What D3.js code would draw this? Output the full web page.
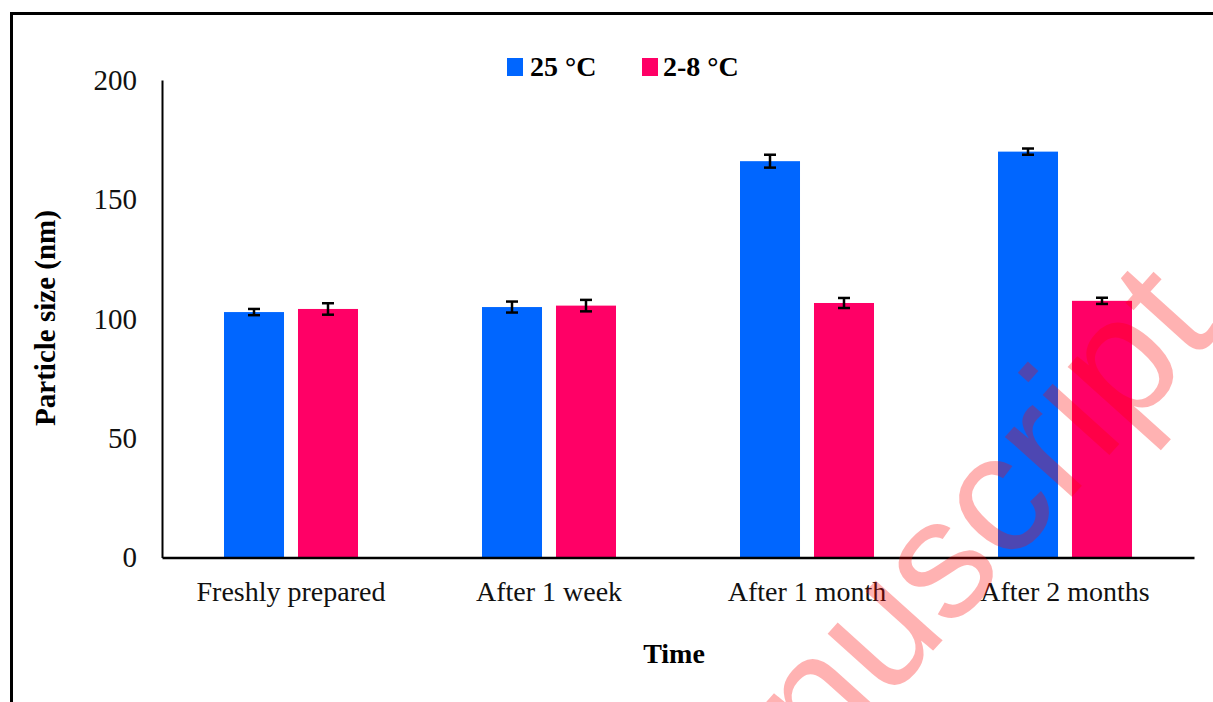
<!DOCTYPE html>
<html>
<head>
<meta charset="utf-8">
<script src="https://cdn.jsdelivr.net/npm/d3@7"></script>
<style>
  html, body { margin: 0; padding: 0; background: #fff; }
  svg { display: block; }
</style>
</head>
<body>
<svg id="chart" width="1213" height="702"></svg>
<script>
// Storage time points on the x axis
const categories = ["Freshly prepared", "After 1 week", "After 1 month", "After 2 months"];
// Series names (storage temperature)
const seriesNames = ["25 °C", "2-8 °C"];
// Mean particle size (nm) and error (±) for each storage temperature
const size25 = [102.8, 104.9, 166.0, 170.0];
const err25 = [1.3, 2.3, 2.7, 1.3];
const size28 = [104.1, 105.5, 106.6, 107.5];
const err28 = [2.4, 2.4, 2.1, 1.3];
// Y axis tick values
const yTicks = [0, 50, 100, 150, 200];

const colors = ["#0066ff", "#ff0066"];
const serif = "'Liberation Serif', 'Times New Roman', serif";

const svg = d3.select("#chart");

// outer frame of the figure panel
svg.append("rect")
  .attr("x", 11.5).attr("y", 13.5)
  .attr("width", 1240).attr("height", 720)
  .attr("fill", "none").attr("stroke", "#000").attr("stroke-width", 3);

const plot = { left: 162, right: 1194, top: 80, bottom: 557.5 };

const x0 = d3.scaleBand().domain(categories).range([plot.left, plot.right]);
const x1 = d3.scaleBand().domain(seriesNames)
  .range([x0.bandwidth() / 2 - 67, x0.bandwidth() / 2 + 67])
  .paddingInner(0.189);
const y = d3.scaleLinear().domain([0, 200]).range([plot.bottom, plot.top]);

const rows = categories.map((c, i) => ({
  cat: c,
  vals: [
    { s: seriesNames[0], v: size25[i], e: err25[i], k: 0 },
    { s: seriesNames[1], v: size28[i], e: err28[i], k: 1 }
  ]
}));

// bars
const groups = svg.append("g").selectAll("g").data(rows).join("g")
  .attr("transform", d => `translate(${x0(d.cat)},0)`);

groups.selectAll("rect").data(d => d.vals).join("rect")
  .attr("x", d => x1(d.s))
  .attr("y", d => y(d.v))
  .attr("width", x1.bandwidth())
  .attr("height", d => y(0) - y(d.v))
  .attr("fill", d => colors[d.k]);

// error bars
const eb = groups.selectAll("g.err").data(d => d.vals).join("g").attr("class", "err")
  .attr("stroke", "#000").attr("stroke-width", 2.5);
const cx = d => x1(d.s) + x1.bandwidth() / 2;
eb.append("line")
  .attr("x1", cx).attr("x2", cx)
  .attr("y1", d => y(d.v + d.e)).attr("y2", d => y(d.v - d.e));
eb.append("line")
  .attr("x1", d => cx(d) - 6).attr("x2", d => cx(d) + 6)
  .attr("y1", d => y(d.v + d.e)).attr("y2", d => y(d.v + d.e));
eb.append("line")
  .attr("x1", d => cx(d) - 6).attr("x2", d => cx(d) + 6)
  .attr("y1", d => y(d.v - d.e)).attr("y2", d => y(d.v - d.e));

// y axis
const yAxis = svg.append("g")
  .attr("transform", `translate(${plot.left},0)`)
  .call(d3.axisLeft(y).tickValues(yTicks).tickSize(0).tickPadding(25));
yAxis.select(".domain").attr("stroke", "#000").attr("stroke-width", 2);
yAxis.selectAll("text")
  .attr("font-family", serif).attr("font-size", 29).attr("fill", "#111");

// x axis
const xAxis = svg.append("g")
  .attr("transform", `translate(0,${plot.bottom})`)
  .call(d3.axisBottom(x0).tickSize(0).tickPadding(24));
xAxis.select(".domain").attr("stroke", "#000").attr("stroke-width", 2.5);
xAxis.selectAll("text")
  .attr("font-family", serif).attr("font-size", 28).attr("fill", "#111");

// axis titles
svg.append("text")
  .attr("transform", "translate(55,318) rotate(-90)")
  .attr("text-anchor", "middle")
  .attr("font-family", serif).attr("font-weight", "bold").attr("font-size", 29)
  .text("Particle size (nm)");

svg.append("text")
  .attr("x", 674).attr("y", 663)
  .attr("text-anchor", "middle")
  .attr("font-family", serif).attr("font-weight", "bold").attr("font-size", 28)
  .text("Time");

// legend
const legendX = [507, 642];
const legend = svg.append("g").selectAll("g").data(seriesNames).join("g")
  .attr("transform", (d, i) => `translate(${legendX[i]},58)`);
legend.append("rect")
  .attr("width", 16).attr("height", 18)
  .attr("fill", (d, i) => colors[i]);
legend.append("text")
  .attr("x", (d, i) => i === 0 ? 23 : 21).attr("y", 18)
  .attr("font-family", serif).attr("font-weight", "bold").attr("font-size", 28)
  .text(d => d);

// diagonal watermark
svg.append("text")
  .attr("transform", "translate(1222,330) rotate(-48)")
  .attr("text-anchor", "end")
  .attr("font-family", "'Liberation Sans', Arial, sans-serif")
  .attr("font-size", 170)
  .attr("fill", "rgba(255,0,0,0.3)")
  .text("Accepted Manuscript");
</script>
</body>
</html>
